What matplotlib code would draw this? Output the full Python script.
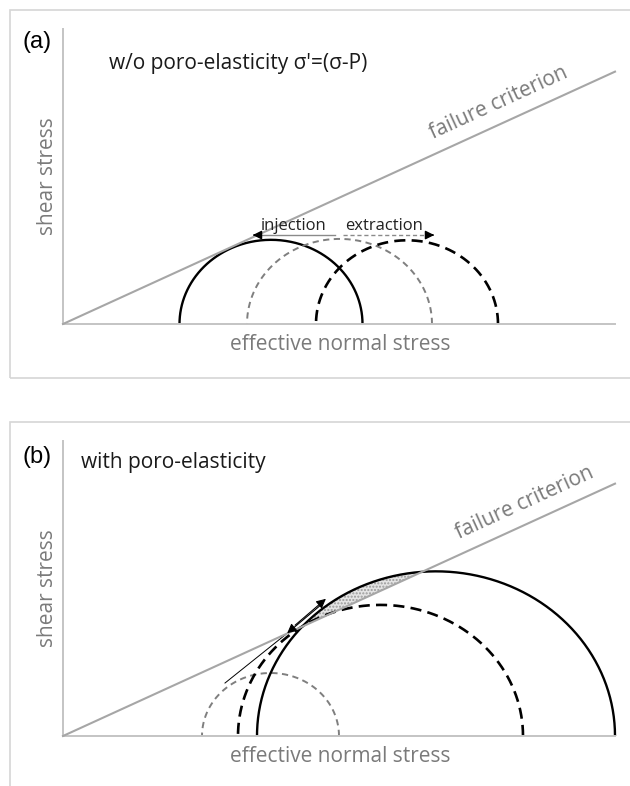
import numpy as np
import matplotlib
matplotlib.use("Agg")
import matplotlib.pyplot as plt
from matplotlib.patches import Rectangle

plt.rcParams['lines.scale_dashes'] = False

# --- data (stress units, 1 unit ~ 1 px horizontally) ---
x_max = 552.0
y_max = 320.7
friction = 0.497           # slope of the failure criterion

# panel (a): Mohr circles, centre / radius (solid, gray dashed, black dashed)
a_centre = [208, 276.5, 344]
a_radius = [91.5, 92.5, 91]
# arrows above the circles
inj_from, inj_to = 272, 187
ext_from, ext_to = 280, 374
arrow_y = 96.7

# panel (b): Mohr circles, centre / radius (gray dashed, black dashed, solid)
b_centre = [207.5, 317.5, 373]
b_radius = [68.5, 142.5, 179]
# tangent / stress path arrows
b_path_x = [162, 222]
b_path_y = [57.6, 109.8]
b_up_tail, b_up_head = (230, 118.5), (265, 151.1)
b_dn_tail, b_dn_head = (259, 143.5), (222, 109.8)

line_gray = '#a6a6a6'
axis_gray = '#c4c4c4'
text_gray = '#7a7a7a'
gray_dash = dict(color='#7f7f7f', lw=1.4, dashes=(4.5, 3.2))
black_dash = dict(color='black', lw=1.9, dashes=(8, 4.5))
solid = dict(color='black', lw=1.7)

W, H = 630, 786
fig = plt.figure(figsize=(W / 100, H / 100), dpi=100)

sans = ['Open Sans', 'DejaVu Sans']
fs = 15


def make_axes(top_px):
    ax = fig.add_axes([63 / W, 1 - (top_px + 295) / H, 552 / W, 295 / H])
    ax.set_xlim(0, x_max)
    ax.set_ylim(0, y_max)
    for s in ['top', 'right']:
        ax.spines[s].set_visible(False)
    for s in ['left', 'bottom']:
        ax.spines[s].set_color(axis_gray)
        ax.spines[s].set_linewidth(1.4)
    ax.set_xticks([])
    ax.set_yticks([])
    ax.patch.set_alpha(0)
    return ax


def half_circle(ax, c, r, style):
    t = np.linspace(0, np.pi, 400)
    kw = dict(style)
    dashes = kw.pop('dashes', None)
    ln, = ax.plot(c + r * np.cos(t), r * np.sin(t), solid_capstyle='butt', clip_on=False, **kw)
    if dashes:
        ln.set_dashes(dashes)
        ln.set_dash_capstyle('butt')
    return ln


def failure(ax, label_x):
    ax.plot([0, x_max], [0, friction * x_max], color=line_gray, lw=1.5, clip_on=False, zorder=3)
    p0 = ax.transData.transform((0, 0))
    p1 = ax.transData.transform((100, 100 * friction))
    ang = np.degrees(np.arctan2(p1[1] - p0[1], p1[0] - p0[0]))
    off = 7.0
    ax.annotate('failure criterion', xy=(label_x, friction * label_x),
                xytext=(-off * np.sin(np.radians(ang)), off * np.cos(np.radians(ang))),
                textcoords='offset points', rotation=ang, rotation_mode='anchor',
                ha='center', va='bottom', color=text_gray, fontsize=fs, family=sans)


def axis_labels(ax):
    ax.text(-0.028, 0.5, 'shear stress', transform=ax.transAxes, rotation=90,
            ha='center', va='center', color=text_gray, fontsize=fs, family=sans)
    ax.text(0.503, -0.07, 'effective normal stress', transform=ax.transAxes,
            ha='center', va='center', color=text_gray, fontsize=fs, family=sans)


# panel frames
fig.add_artist(Rectangle((10 / W, 1 - 378 / H), 1.2, 368 / H, transform=fig.transFigure,
                         fill=False, ec='#d6d6d6', lw=1.2))
fig.add_artist(Rectangle((10 / W, -0.1), 1.2, 1 - 422 / H + 0.1, transform=fig.transFigure,
                         fill=False, ec='#d6d6d6', lw=1.2))

# ---------------- panel (a) ----------------
ax = make_axes(29)
failure(ax, 444)
axis_labels(ax)
for c, r, st in zip(a_centre, a_radius, [solid, gray_dash, black_dash]):
    half_circle(ax, c, r, st)

ax.plot([inj_from, inj_to + 6], [arrow_y, arrow_y], color='#8a8a8a', lw=1.0)
ax.annotate('', xy=(inj_to, arrow_y), xytext=(inj_to + 8, arrow_y),
            arrowprops=dict(arrowstyle='-|>', color='black', lw=1.0, mutation_scale=13))
ln, = ax.plot([ext_from, ext_to - 6], [arrow_y, arrow_y], color='#8a8a8a', lw=1.0)
ln.set_dashes((3, 2))
ax.annotate('', xy=(ext_to, arrow_y), xytext=(ext_to - 8, arrow_y),
            arrowprops=dict(arrowstyle='-|>', color='black', lw=1.0, mutation_scale=13))
ax.text(231, arrow_y + 1.5, 'injection', ha='center', va='bottom', fontsize=12,
        color='#222222', family=sans)
ax.text(321, arrow_y + 1.5, 'extraction', ha='center', va='bottom', fontsize=12,
        color='#222222', family=sans)

fig.text(37 / W, 1 - 42 / H, '(a)', ha='center', va='center', fontsize=17,
         family=['Liberation Sans', 'DejaVu Sans'])
fig.text(109 / W, 1 - 63 / H, "w/o poro-elasticity σ'=(σ-P)", ha='left', va='center',
         fontsize=fs, color='#1a1a1a', family=sans)

# ---------------- panel (b) ----------------
ax = make_axes(441)
failure(ax, 470)
axis_labels(ax)

# region of the big circle above the failure line
c, r = b_centre[2], b_radius[2]
qa, qb, qc = 1 + friction ** 2, -2 * c, c ** 2 - r ** 2
disc = np.sqrt(qb ** 2 - 4 * qa * qc)
x1, x2 = (-qb - disc) / (2 * qa), (-qb + disc) / (2 * qa)
xs = np.linspace(x1, x2, 200)
ax.fill_between(xs, friction * xs, np.sqrt(np.clip(r ** 2 - (xs - c) ** 2, 0, None)),
                facecolor='#e4e4e4', edgecolor='#9a9a9a', hatch='.....', lw=0, zorder=1)

for c, r, st in zip(b_centre, b_radius, [gray_dash, black_dash, solid]):
    half_circle(ax, c, r, st)

ax.plot(b_path_x, b_path_y, color='black', lw=0.7)
ax.annotate('', xy=b_up_head, xytext=b_up_tail,
            arrowprops=dict(arrowstyle='-|>', color='black', lw=0.8, mutation_scale=14))
ax.annotate('', xy=b_dn_head, xytext=b_dn_tail,
            arrowprops=dict(arrowstyle='-|>', color='black', lw=0.8, mutation_scale=14))

fig.text(37 / W, 1 - 457 / H, '(b)', ha='center', va='center', fontsize=17,
         family=['Liberation Sans', 'DejaVu Sans'])
fig.text(81 / W, 1 - 463 / H, 'with poro-elasticity', ha='left', va='center',
         fontsize=fs, color='#1a1a1a', family=sans)

fig.savefig('out.png', dpi=100)
